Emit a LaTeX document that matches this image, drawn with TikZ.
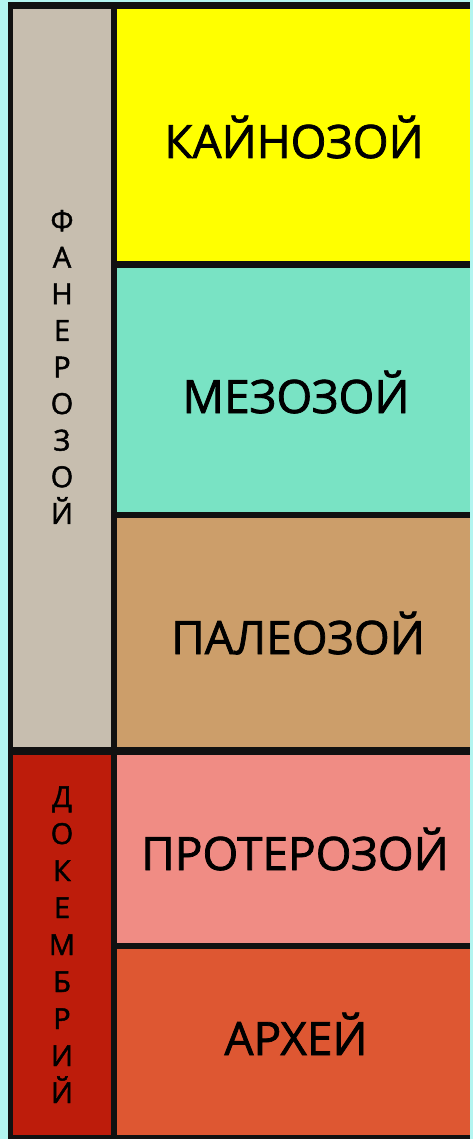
\documentclass[tikz,border=0pt]{standalone}
\usepackage{fontspec}
\setmainfont{Open Sans}
\newfontfamily\heavyfont[FakeBold=1.6]{Open Sans}
\definecolor{bgc}{HTML}{B3F5F0}
\definecolor{framec}{HTML}{111111}
\definecolor{grayc}{HTML}{C7BEAF}
\definecolor{redc}{HTML}{BD1C0B}
\definecolor{yellowc}{HTML}{FFFF00}
\definecolor{tealc}{HTML}{79E3C4}
\definecolor{brownc}{HTML}{CC9E6A}
\definecolor{pinkc}{HTML}{F08C84}
\definecolor{orangec}{HTML}{DE5732}
\tikzset{
  era/.style={font=\heavyfont\fontsize{46}{50}\selectfont, text=black, anchor=base, inner sep=0pt},
  eon/.style={font=\heavyfont\fontsize{29}{32}\selectfont, text=black, anchor=base, inner sep=0pt},
}
\begin{document}
\begin{tikzpicture}[x=1pt,y=-1pt]
\useasboundingbox (0,0) rectangle (473,1139);
\fill[bgc] (0,0) rectangle (473,1139);
% black frame
\fill[framec] (8,2) rectangle (470,1139);
% left column
\fill[grayc] (13,9) rectangle (111,747);
\fill[redc] (13,755) rectangle (111,1135);
% right column
\fill[yellowc] (117,9) rectangle (470,261);
\fill[tealc] (117,268) rectangle (470,512);
\fill[brownc] (117,518) rectangle (470,747);
\fill[pinkc] (117,755) rectangle (470,943);
\fill[orangec] (117,949) rectangle (470,1135);
% era labels
\node[era] (kain) at (294,158) {КАЙНОЗОЙ};
\node[era] (mez) at (296,413) {МЕЗОЗОЙ};
\node[era] (pal) at (298,654) {ПАЛЕОЗОЙ};
\node[era] (prot) at (295,870) {ПРОТЕРОЗОЙ};
\node[era] (arch) at (296,1055) {АРХЕЙ};
% eon labels (vertical)
\foreach \l [count=\i from 0] in {Ф,А,Н,Е,Р,О,З,О,Й}
  \node[eon] (fan\i) at (62,231+36.6*\i) {\l};
\foreach \l [count=\i from 0] in {Д,О,К,Е,М,Б,Р,И,Й}
  \node[eon] (dok\i) at (62,807+37*\i) {\l};
\end{tikzpicture}
\end{document}
